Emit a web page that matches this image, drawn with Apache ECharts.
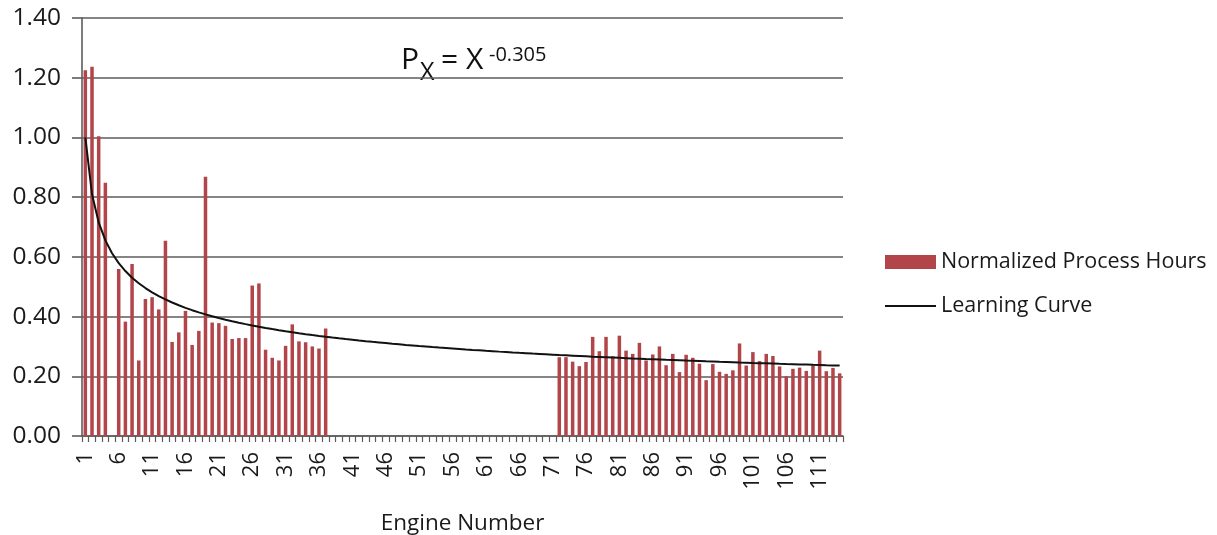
<!DOCTYPE html>
<html>
<head>
<meta charset="utf-8">
<script src="https://cdn.jsdelivr.net/npm/echarts@6/dist/echarts.min.js"></script>
<style>
  html, body { margin: 0; padding: 0; background: #fff; }
  #chart { width: 1217px; height: 535px; }
</style>
</head>
<body>
<div id="chart"></div>
<script>
// Engine numbers 1..114 along the x axis
const engineNumbers = Array.from({ length: 114 }, (_, i) => String(i + 1));

// Normalized process hours per engine (null = no record)
const hoursEngines1to37 = [
  1.225, 1.237, 1.004, 0.848, null, 0.559, 0.383, 0.576, 0.253, 0.459,
  0.465, 0.424, 0.654, 0.315, 0.347, 0.419, 0.305, 0.352, 0.868, 0.380,
  0.378, 0.369, 0.325, 0.328, 0.328, 0.504, 0.511, 0.289, 0.262, 0.253,
  0.302, 0.374, 0.317, 0.314, 0.300, 0.293, 0.360
];
const hoursEngines38to71 = new Array(34).fill(null);
const hoursEngines72to114 = [
  0.264, 0.264, 0.249, 0.234, 0.248, 0.332, 0.284, 0.332, 0.267, 0.336,
  0.286, 0.275, 0.312, 0.253, 0.273, 0.300, 0.237, 0.275, 0.214, 0.272,
  0.262, 0.242, 0.187, 0.241, 0.215, 0.208, 0.220, 0.310, 0.236, 0.281,
  0.251, 0.275, 0.268, 0.233, 0.200, 0.225, 0.229, 0.218, 0.237, 0.286,
  0.217, 0.228, 0.210
];
const normalizedHours = [...hoursEngines1to37, ...hoursEngines38to71, ...hoursEngines72to114];

// Learning curve P_x = X^-0.305, as given by the equation label
const curveExponent = -0.305;
const learningCurve = engineNumbers.map(n => +Math.pow(Number(n), curveExponent).toFixed(4));

const yTicks = { min: 0, max: 1.4, step: 0.2 };

const FONT = 'Open Sans';
const TEXT = '#1a1a1a';
const AXIS = '#5c5c5c';
const chart = echarts.init(document.getElementById('chart'), null, { renderer: 'canvas' });

chart.setOption({
  animation: false,
  backgroundColor: '#ffffff',
  textStyle: { fontFamily: FONT, color: TEXT },
  grid: { left: 82, right: 374, top: 18, bottom: 99, containLabel: false, outerBoundsMode: 'none' },
  legend: {
    orient: 'vertical',
    left: 879,
    top: 246,
    itemWidth: 51,
    itemHeight: 14,
    itemGap: 22,
    textStyle: { fontFamily: FONT, fontSize: 21.5, color: TEXT },
    data: [
      { name: 'Normalized Process Hours', icon: 'rect' },
      // plain line key, no marker dot
      { name: 'Learning Curve', itemStyle: { opacity: 0 }, lineStyle: { color: '#111111', width: 2 } }
    ]
  },
  xAxis: {
    type: 'category',
    data: engineNumbers,
    boundaryGap: true,
    name: 'Engine Number',
    nameLocation: 'middle',
    nameGap: 76,
    nameTextStyle: { fontFamily: FONT, fontSize: 22.5, color: TEXT },
    axisLine: { lineStyle: { color: AXIS, width: 1.6 } },
    axisTick: { show: true, interval: 0, length: 6, lineStyle: { color: AXIS, width: 1.2 } },
    axisLabel: {
      interval: 4,
      rotate: 90,
      margin: 16,
      fontFamily: FONT,
      fontSize: 22,
      color: TEXT
    },
    splitLine: { show: false }
  },
  yAxis: {
    type: 'value',
    min: yTicks.min,
    max: yTicks.max,
    interval: yTicks.step,
    axisLine: { show: true, lineStyle: { color: AXIS, width: 1.6 } },
    axisTick: { show: true, length: 10, lineStyle: { color: AXIS, width: 1.6 } },
    axisLabel: {
      margin: 21,
      fontFamily: FONT,
      fontSize: 24.5,
      color: TEXT,
      formatter: v => v.toFixed(2)
    },
    splitLine: { show: true, lineStyle: { color: AXIS, width: 1.6 } }
  },
  series: [
    {
      name: 'Normalized Process Hours',
      type: 'bar',
      data: normalizedHours,
      barWidth: 3.5,
      itemStyle: { color: '#B2454A' },
      z: 2
    },
    {
      name: 'Learning Curve',
      type: 'line',
      data: learningCurve,
      symbol: 'none',
      smooth: false,
      lineStyle: { color: '#111111', width: 2 },
      itemStyle: { color: '#111111' },
      z: 3
    }
  ],
  graphic: [
    { type: 'text', left: 401, top: 45, style: { text: 'P', font: '30px "Open Sans"', fill: '#111' } },
    { type: 'text', left: 420, top: 60, style: { text: 'X', font: '25px "Open Sans"', fill: '#111' } },
    { type: 'text', left: 441, top: 45, style: { text: '= X', font: '30px "Open Sans"', fill: '#111' } },
    { type: 'text', left: 489, top: 45, style: { text: '-0.305', font: '20px "Open Sans"', fill: '#111' } }
  ]
});
</script>
</body>
</html>
